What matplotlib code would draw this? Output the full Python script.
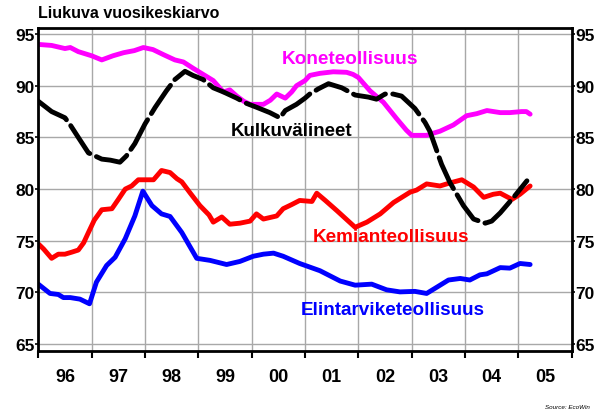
import matplotlib
matplotlib.use("Agg")
import matplotlib.pyplot as plt
import numpy as np

plt.rcParams['font.family'] = ['Liberation Sans', 'DejaVu Sans']

# Years since start of 1996 (x) and moving-average values (y)
kone_t = [0.0, 0.25, 0.5, 0.6, 0.75, 1.0, 1.19, 1.4, 1.6, 1.8, 1.97, 2.15, 2.35, 2.56,
          2.72, 2.9, 3.09, 3.28, 3.4, 3.47, 3.59, 3.72, 3.85, 3.97, 4.1, 4.22, 4.35,
          4.47, 4.55, 4.63, 4.75, 4.84, 5.0, 5.09, 5.28, 5.53, 5.78, 5.9, 6.0, 6.22,
          6.47, 6.72, 6.9, 7.0, 7.28, 7.4, 7.53, 7.78, 8.03, 8.22, 8.41, 8.66, 8.84,
          9.06, 9.15, 9.22]
kone_v = [94.0, 93.9, 93.6, 93.7, 93.3, 92.9, 92.5, 92.9, 93.2, 93.4, 93.7, 93.5, 93.0, 92.5,
          92.3, 91.7, 91.1, 90.5, 89.8, 89.4, 89.6, 89.0, 88.5, 88.2, 88.2, 88.2, 88.6,
          89.2, 89.0, 88.8, 89.4, 90.0, 90.5, 91.0, 91.2, 91.35, 91.3, 91.1, 90.8, 89.5,
          88.4, 86.8, 85.7, 85.2, 85.2, 85.4, 85.6, 86.2, 87.1, 87.3, 87.6, 87.4, 87.4,
          87.5, 87.5, 87.25]

kulku_t = [0.0, 0.25, 0.5, 0.6, 0.75, 0.94, 1.19, 1.35, 1.53, 1.65, 1.81, 2.0, 2.19, 2.4,
           2.56, 2.75, 2.9, 3.09, 3.28, 3.47, 3.72, 3.9, 4.1, 4.34, 4.53, 4.63, 4.84,
           5.0, 5.09, 5.25, 5.44, 5.69, 5.94, 6.19, 6.34, 6.5, 6.65, 6.81, 7.06, 7.25,
           7.34, 7.45, 7.56, 7.72, 7.97, 8.16, 8.38, 8.5, 8.66, 8.91, 9.16]
kulku_v = [88.5, 87.5, 86.9, 86.2, 85.0, 83.5, 82.9, 82.8, 82.6, 83.2, 84.4, 86.3, 87.9, 89.5,
           90.6, 91.4, 91.0, 90.6, 89.8, 89.4, 88.8, 88.3, 87.9, 87.4, 86.9, 87.6, 88.2,
           88.8, 89.2, 89.7, 90.2, 89.8, 89.1, 88.9, 88.7, 89.2, 89.2, 89.0, 87.8, 86.45,
           85.6, 84.0, 82.4, 80.6, 78.4, 77.1, 76.7, 76.9, 77.7, 79.2, 80.8]

kemia_t = [0.0, 0.1, 0.25, 0.375, 0.5, 0.63, 0.75, 0.85, 0.94, 1.05, 1.19, 1.38, 1.5, 1.63,
           1.75, 1.875, 2.16, 2.31, 2.47, 2.6, 2.69, 2.85, 3.03, 3.2, 3.28, 3.44, 3.59,
           3.78, 3.97, 4.09, 4.22, 4.47, 4.59, 4.75, 4.9, 5.13, 5.22, 5.38, 5.6, 5.94,
           6.16, 6.41, 6.66, 6.97, 7.09, 7.28, 7.53, 7.72, 7.94, 8.16, 8.35, 8.53, 8.66,
           8.88, 9.03, 9.22]
kemia_v = [74.7, 74.2, 73.3, 73.7, 73.7, 73.9, 74.1, 74.8, 75.8, 77.0, 78.0, 78.1, 79.0, 80.0,
           80.3, 80.9, 80.9, 81.8, 81.6, 81.0, 80.7, 79.6, 78.4, 77.5, 76.8, 77.3, 76.6,
           76.7, 76.9, 77.6, 77.1, 77.4, 78.1, 78.5, 78.9, 78.8, 79.6, 78.9, 77.9, 76.3,
           76.8, 77.6, 78.7, 79.7, 79.9, 80.5, 80.3, 80.6, 80.9, 80.2, 79.2, 79.5, 79.6,
           79.0, 79.5, 80.3]

elin_t = [0.0, 0.22, 0.375, 0.47, 0.6, 0.78, 0.96, 1.09, 1.28, 1.44, 1.63, 1.81, 1.96, 2.13,
          2.31, 2.47, 2.69, 2.97, 3.22, 3.53, 3.78, 4.03, 4.22, 4.41, 4.59, 4.9, 5.28,
          5.66, 5.94, 6.25, 6.53, 6.78, 7.06, 7.28, 7.47, 7.69, 7.91, 8.09, 8.28, 8.41,
          8.66, 8.84, 9.03, 9.22]
elin_v = [70.8, 69.9, 69.8, 69.5, 69.5, 69.35, 68.9, 71.0, 72.6, 73.4, 75.2, 77.4, 79.8, 78.4,
          77.6, 77.35, 75.8, 73.3, 73.1, 72.7, 73.0, 73.5, 73.7, 73.8, 73.5, 72.8, 72.1,
          71.1, 70.7, 70.8, 70.25, 70.05, 70.1, 69.9, 70.5, 71.2, 71.35, 71.2, 71.7, 71.8,
          72.4, 72.35, 72.8, 72.7]

year_labels = ['96', '97', '98', '99', '00', '01', '02', '03', '04', '05']
y_ticks = [65, 70, 75, 80, 85, 90, 95]

fig = plt.figure(figsize=(6.05, 4.14), dpi=100)
ax = fig.add_axes([0.0633, 0.149, 0.8817, 0.780])

start = 1996
lw = 3.5
ax.plot(start + np.array(kone_t), kone_v, color='#ff00ff', linewidth=lw, solid_capstyle='round')
ax.plot(start + np.array(kemia_t), kemia_v, color='#ff0000', linewidth=lw, solid_capstyle='round')
ax.plot(start + np.array(elin_t), elin_v, color='#0000ff', linewidth=lw, solid_capstyle='round')
ax.plot(start + np.array(kulku_t), kulku_v, color='black', linewidth=lw,
        dashes=(7, 1.5), dash_capstyle='round')

# series labels
ax.text(2001.85, 92.6, 'Koneteollisuus', color='#ff00ff', fontsize=13.7, fontweight='bold', ha='center', va='center')
ax.text(2000.74, 85.7, 'Kulkuvälineet', color='black', fontsize=13.5, fontweight='bold', ha='center', va='center')
ax.text(2002.61, 75.45, 'Kemianteollisuus', color='#ff0000', fontsize=13.6, fontweight='bold', ha='center', va='center')
ax.text(2002.64, 68.3, 'Elintarviketeollisuus', color='#0000ff', fontsize=13.6, fontweight='bold', ha='center', va='center')

ax.set_xlim(1996, 2006)
ax.set_ylim(64.3, 95.55)
ax.set_xticks(np.arange(1996, 2007))
ax.set_xticklabels([])
ax.set_xticks(np.arange(1996.5, 2006), minor=True)
ax.set_xticklabels(year_labels, minor=True, fontsize=13, fontweight='bold')
ax.tick_params(axis='x', which='major', direction='out', length=5, width=1.5)
ax.tick_params(axis='x', which='minor', length=0, pad=12)

ax.set_yticks(y_ticks)
ax.set_yticklabels([str(v) for v in y_ticks], fontsize=12.5, fontweight='bold')
ax.tick_params(axis='y', which='major', direction='out', length=3, width=1.2, pad=1,
               left=True, right=True, labelleft=True, labelright=True)
ax.tick_params(axis='y', which='major', right=True, length=2, pad=0.5)

ax.grid(True, which='major', color='#a8a8a8', linewidth=1)
ax.set_axisbelow(True)
for s in ax.spines.values():
    s.set_linewidth(2)

fig.text(0.063, 0.985, 'Liukuva vuosikeskiarvo', fontsize=11.5, fontweight='bold', ha='left', va='top')
fig.text(0.975, 0.01, 'Source: EcoWin', fontsize=4.5, style='italic', ha='right', va='bottom')

fig.savefig('out.png', dpi=100)
